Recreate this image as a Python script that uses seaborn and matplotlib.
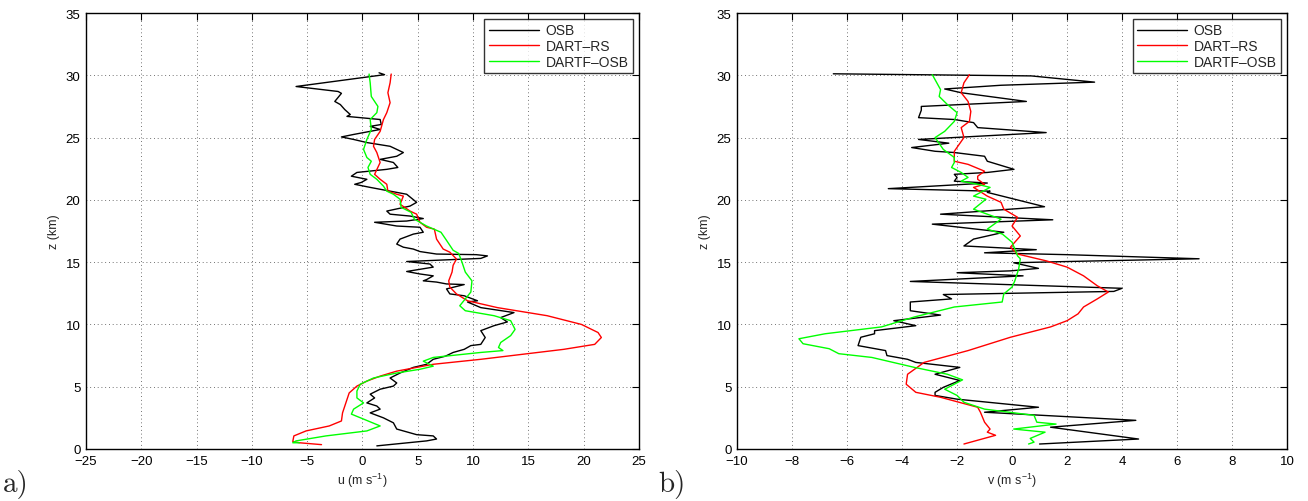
import numpy as np
import pandas as pd
import seaborn as sns
import matplotlib
matplotlib.use("Agg")
from matplotlib import pyplot as plt

# profiles: (wind component, height in km), top to bottom
u_osb = [(1.5, 30.2), (2.0, 30.05), (-6.0, 29.1), (-2.2, 28.7), (-1.9, 28.55), (-2.5, 27.9), (-2.0, 27.65),
         (-1.6, 27.25), (-1.1, 26.85), (-1.4, 26.7), (-0.2, 26.6), (1.6, 26.45), (1.7, 26.05), (0.7, 25.9),
         (1.6, 25.65), (-0.8, 25.25), (-1.9, 25.05), (-0.8, 24.85), (0.4, 24.6), (2.5, 24.3), (3.7, 23.8),
         (3.1, 23.5), (1.6, 23.25), (2.8, 23.0), (3.2, 22.6), (2.2, 22.45), (-0.5, 22.2), (-1.0, 21.9),
         (0.4, 21.65), (-0.1, 21.4), (-0.7, 21.25), (0.7, 21.0), (2.5, 20.7), (4.0, 20.45), (4.9, 19.8),
         (4.3, 19.5), (2.2, 19.1), (2.5, 18.85), (4.3, 18.7), (5.5, 18.5), (4.0, 18.3), (1.1, 18.2),
         (3.1, 17.9), (5.2, 17.8), (5.5, 17.4), (4.6, 17.25), (3.4, 16.85), (3.1, 16.45), (3.7, 16.2),
         (4.6, 16.05), (5.2, 15.85), (6.7, 15.65), (10.3, 15.6), (11.3, 15.5), (10.7, 15.3), (4.0, 15.05),
         (6.1, 14.85), (6.4, 14.6), (4.0, 14.25), (5.2, 14.05), (6.4, 13.9), (5.8, 13.6), (5.5, 13.5),
         (6.7, 13.4), (7.6, 13.25), (9.2, 13.2), (7.6, 12.85), (7.9, 12.45), (9.2, 12.3), (10.4, 11.9),
         (9.5, 11.8), (10.7, 11.35), (13.7, 10.95), (12.5, 10.55), (13.1, 10.2), (11.9, 9.9), (10.7, 9.5),
         (11.1, 8.95), (10.7, 8.4), (9.8, 8.3), (9.2, 8.0), (8.2, 7.75), (7.5, 7.45), (6.4, 7.2), (5.8, 6.8),
         (4.6, 6.55), (3.4, 6.1), (2.5, 5.7), (3.1, 5.3), (2.8, 5.05), (1.6, 4.8), (0.7, 4.4), (1.1, 4.1),
         (0.4, 3.7), (1.3, 3.45), (1.6, 3.2), (0.7, 2.9), (1.9, 2.5), (2.8, 2.1), (3.1, 1.6), (4.9, 1.15),
         (6.4, 1.05), (6.7, 0.8), (5.8, 0.65), (1.3, 0.25)]
u_rs = [(2.6, 30.1), (2.5, 29.4), (2.3, 28.6), (2.5, 27.8), (2.2, 27.0), (1.9, 26.45), (1.6, 25.5), (1.1, 24.85),
        (1.0, 24.3), (1.3, 23.8), (1.6, 23.0), (1.1, 22.05), (1.6, 21.65), (2.2, 21.25), (2.3, 20.7),
        (3.1, 20.45), (3.7, 20.3), (3.4, 19.65), (4.3, 19.1), (4.9, 18.85), (5.2, 18.2), (5.8, 17.8),
        (6.5, 17.65), (6.7, 16.85), (7.3, 16.05), (7.9, 15.8), (8.5, 15.25), (8.2, 14.75), (8.1, 14.2),
        (7.8, 13.5), (7.9, 13.0), (8.5, 12.45), (9.5, 11.9), (12.2, 11.35), (16.7, 10.7), (19.8, 10.0),
        (21.3, 9.35), (21.6, 8.95), (21.0, 8.4), (18.2, 8.0), (10.7, 7.2), (6.4, 6.8), (3.1, 6.25),
        (1.6, 5.85), (0.4, 5.45), (-0.5, 5.05), (-1.2, 4.5), (-1.5, 3.7), (-1.8, 2.9), (-1.9, 2.25),
        (-3.0, 1.85), (-5.1, 1.45), (-6.2, 1.05), (-6.3, 0.6), (-5.7, 0.5), (-3.7, 0.35)]
u_dartf = [(0.6, 30.1), (0.7, 29.4), (0.8, 28.3), (1.4, 27.5), (1.3, 27.0), (0.7, 26.45), (0.8, 25.65),
           (0.4, 24.85), (0.1, 24.05), (0.4, 23.4), (0.8, 23.1), (0.5, 22.6), (0.7, 22.05), (1.3, 21.65),
           (1.9, 21.1), (2.2, 20.7), (2.8, 20.45), (3.4, 20.05), (3.5, 19.4), (4.4, 19.0), (4.7, 18.45),
           (5.8, 17.9), (7.1, 17.4), (7.6, 16.75), (8.2, 15.95), (8.7, 15.7), (9.0, 15.0), (9.3, 14.2),
           (9.9, 13.5), (9.8, 12.6), (8.8, 11.5), (9.3, 11.1), (11.9, 10.7), (13.4, 10.3), (13.8, 9.6),
           (13.4, 9.1), (12.5, 8.55), (12.3, 8.15), (12.7, 7.9), (10.7, 7.75), (6.4, 7.35), (5.5, 7.05),
           (6.4, 6.65), (5.2, 6.4), (3.1, 6.1), (1.0, 5.7), (-0.2, 5.2), (-0.5, 4.65), (-0.5, 4.1), (0.1, 3.7),
           (-0.8, 3.2), (-1.0, 2.8), (0.1, 2.4), (1.6, 1.85), (0.4, 1.45), (-3.3, 1.05), (-6.0, 0.65),
           (-6.3, 0.5), (-5.7, 0.5)]

v_osb = [(-6.5, 30.12), (0.7, 29.95), (3.0, 29.45), (-0.4, 29.2), (-2.45, 28.9), (-1.85, 28.6), (0.52, 27.9),
         (-3.3, 27.5), (-3.3, 27.2), (-3.4, 26.6), (-2.1, 26.45), (-1.4, 26.2), (-1.25, 25.8), (1.24, 25.4),
         (-3.4, 24.85), (-2.3, 24.55), (-3.65, 24.2), (-2.8, 23.9), (-2.1, 23.8), (-1.0, 23.5), (-0.9, 23.1),
         (0.07, 22.45), (-0.9, 22.2), (-2.1, 22.05), (-2.0, 21.8), (-2.1, 21.5), (-0.9, 21.35), (-4.5, 20.9),
         (-0.8, 20.7), (-0.9, 20.6), (1.18, 19.45), (-2.6, 18.85), (1.48, 18.4), (-2.9, 18.05), (-0.3, 17.4),
         (-1.4, 16.85), (-1.75, 16.3), (0.88, 16.0), (-1.0, 15.75), (2.0, 15.6), (6.8, 15.27), (2.0, 15.05),
         (0.06, 14.95), (0.96, 14.5), (-0.06, 14.3), (-2.0, 14.15), (0.4, 13.9), (-3.7, 13.45), (4.0, 12.9),
         (3.7, 12.65), (-2.5, 12.4), (-2.2, 12.05), (-2.5, 12.0), (-3.7, 11.8), (-3.7, 11.1), (-2.6, 10.75),
         (-4.3, 10.3), (-3.5, 9.9), (-5.0, 9.5), (-5.0, 9.25), (-5.5, 8.97), (-5.6, 8.3), (-4.6, 7.9),
         (-4.55, 7.5), (-3.8, 7.2), (-3.5, 6.95), (-1.9, 6.55), (-2.8, 6.0), (-1.9, 5.5), (-2.5, 4.95),
         (-2.8, 4.55), (-2.8, 4.3), (-2.0, 4.0), (0.96, 3.35), (-1.0, 2.95), (4.5, 2.3), (1.4, 1.75),
         (4.6, 0.8), (1.0, 0.4)]
v_rs = [(-1.55, 30.05), (-1.75, 29.4), (-1.85, 28.6), (-1.6, 27.9), (-1.5, 27.1), (-1.55, 26.3), (-1.85, 25.8),
        (-1.75, 25.0), (-2.1, 23.9), (-2.1, 23.1), (-1.6, 22.85), (-1.0, 22.3), (-1.25, 21.9), (-1.25, 21.65),
        (-1.0, 21.25), (-1.4, 21.0), (-0.9, 20.3), (-0.4, 19.8), (-0.3, 19.25), (0.2, 18.6), (0.0, 17.9),
        (0.3, 17.1), (-0.06, 16.2), (0.2, 15.65), (1.25, 15.1), (2.0, 14.6), (2.6, 13.9), (3.1, 13.1),
        (3.5, 12.6), (3.1, 12.05), (2.6, 11.4), (2.4, 10.85), (2.0, 10.3), (1.4, 9.8), (-0.06, 8.97),
        (-1.6, 7.9), (-3.2, 6.95), (-3.8, 6.0), (-3.85, 5.2), (-3.5, 4.55), (-2.6, 4.15), (-1.25, 3.35),
        (-1.15, 2.95), (-1.0, 2.15), (-0.8, 1.6), (-0.9, 1.35), (-0.6, 1.1), (-1.75, 0.4)]
v_dartf = [(-2.9, 30.05), (-2.6, 28.85), (-2.65, 28.3), (-2.35, 27.65), (-2.0, 27.0), (-2.1, 26.3),
           (-2.45, 25.5), (-2.8, 25.0), (-2.5, 24.05), (-2.1, 23.4), (-2.1, 23.0), (-2.2, 22.6), (-1.85, 22.2),
           (-1.6, 21.8), (-1.85, 21.5), (-1.25, 21.25), (-0.8, 21.0), (-1.4, 20.3), (-0.95, 20.05),
           (-1.4, 19.25), (-0.4, 18.45), (-0.9, 17.65), (-0.35, 17.25), (0.0, 16.6), (0.2, 15.5), (0.3, 15.27),
           (0.24, 14.45), (0.1, 13.5), (0.0, 13.0), (-0.3, 12.45), (-0.36, 11.8), (-2.1, 11.4), (-3.55, 10.6),
           (-4.75, 9.8), (-6.8, 9.25), (-7.75, 8.85), (-7.6, 8.45), (-6.65, 8.05), (-6.3, 7.65), (-5.1, 7.35),
           (-3.55, 6.55), (-2.35, 6.0), (-1.8, 5.55), (-2.45, 4.8), (-2.0, 4.3), (-1.75, 3.75), (-1.0, 3.2),
           (0.8, 2.7), (0.9, 2.15), (1.6, 2.0), (0.06, 1.6), (1.2, 1.35), (0.66, 0.85), (0.8, 0.55), (0.6, 0.4)]

series_names = ['OSB', 'DART\u2013RS', 'DARTF\u2013OSB']
colors = {'OSB': 'black', 'DART\u2013RS': '#ff0000', 'DARTF\u2013OSB': '#00ff00'}


def to_frame(profiles):
    rows = []
    for name, prof in zip(series_names, profiles):
        for val, z in prof:
            rows.append((name, val, z))
    return pd.DataFrame(rows, columns=['series', 'wind', 'z'])


df_u = to_frame([u_osb, u_rs, u_dartf])
df_v = to_frame([v_osb, v_rs, v_dartf])

sns.set_style('white')
plt.rcParams['font.family'] = ['Liberation Sans', 'DejaVu Sans']
plt.rcParams['mathtext.fontset'] = 'custom'
plt.rcParams['mathtext.rm'] = 'Liberation Sans'
plt.rcParams['mathtext.it'] = 'Liberation Sans'

fig = plt.figure(figsize=(13.08, 5.02), dpi=100)
ax1 = fig.add_axes([0.0657, 0.1036, 0.4228, 0.8685])
ax2 = fig.add_axes([0.5635, 0.1036, 0.4205, 0.8685])

panels = [(ax1, df_u, (-25, 25), np.arange(-25, 26, 5), 'u (m s$^{-1}$)'),
          (ax2, df_v, (-10, 10), np.arange(-10, 11, 2), 'v (m s$^{-1}$)')]

for ax, df, xlim, xticks, xlabel in panels:
    sns.lineplot(data=df, x='wind', y='z', hue='series', hue_order=series_names, palette=colors,
                 sort=False, estimator=None, linewidth=1.0, ax=ax)
    ax.set_xlim(*xlim)
    ax.set_ylim(0, 35)
    ax.set_xticks(xticks)
    ax.set_yticks(range(0, 36, 5))
    ax.grid(True, color='#444444', linestyle=(0, (1, 3.5)), linewidth=0.6)
    ax.tick_params(direction='in', top=True, right=True, length=5, width=0.8,
                   labelsize=9.5, colors='black', pad=4)
    for sp in ax.spines.values():
        sp.set_color('black')
        sp.set_linewidth(1.0)
    ax.set_xlabel(xlabel, fontsize=9, labelpad=3)
    ax.set_ylabel('z (km)', fontsize=9, labelpad=4)
    leg = ax.legend(loc='upper right', fontsize=10, frameon=True, fancybox=False,
                    handlelength=3.6, handletextpad=0.5, labelspacing=0.12,
                    borderpad=0.3, borderaxespad=0.45)
    leg.get_frame().set_edgecolor('black')
    leg.get_frame().set_linewidth(1.0)
    for line in leg.get_lines():
        line.set_linewidth(1.0)

fig.text(0.002, 0.005, 'a)', family='cmr10', fontsize=21, ha='left', va='bottom')
fig.text(0.503, 0.005, 'b)', family='cmr10', fontsize=21, ha='left', va='bottom')

fig.savefig('out.png', dpi=100)
